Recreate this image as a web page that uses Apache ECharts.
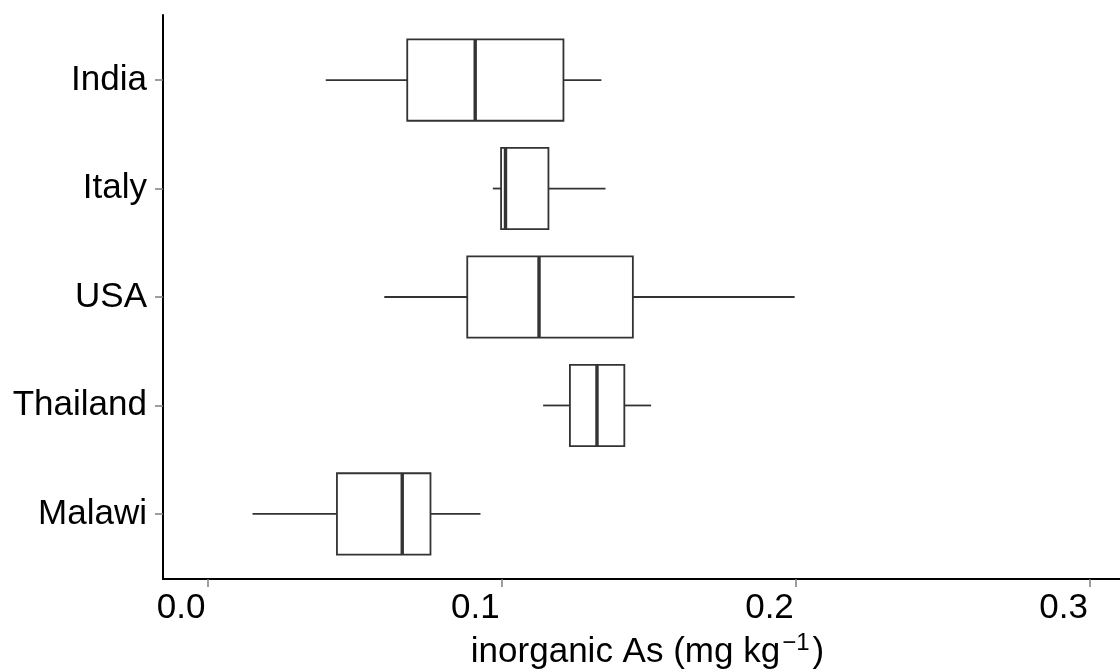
<!DOCTYPE html>
<html>
<head>
<meta charset="utf-8">
<script src="https://cdn.jsdelivr.net/npm/echarts@6/dist/echarts.min.js"></script>
<style>
  html, body { margin: 0; padding: 0; background: #ffffff; }
  #chart { width: 1120px; height: 670px; }
</style>
</head>
<body>
<div id="chart"></div>
<script>
// ---- data ----
const categories = ['India', 'Italy', 'USA', 'Thailand', 'Malawi'];
const whiskerLow = [0.0402, 0.0970, 0.0601, 0.1141, 0.0153];
const quartile1  = [0.0679, 0.0998, 0.0883, 0.1232, 0.0440];
const medians    = [0.0910, 0.1013, 0.1127, 0.1324, 0.0662];
const quartile3  = [0.1210, 0.1159, 0.1446, 0.1417, 0.0758];
const whiskerHigh= [0.1339, 0.1353, 0.1996, 0.1508, 0.0928];
const xTicks = [0, 0.1, 0.2, 0.3];
const xTickLabels = ['0.0', '0.1', '0.2', '0.3'];

const rows = categories.map((c, i) => [i + 1, whiskerLow[i], quartile1[i], medians[i], quartile3[i], whiskerHigh[i]]);
const yTicks = categories.map((c, i) => i + 1);

const STROKE = '#333333';
const FONT = 'Liberation Sans, Arial, sans-serif';

const chart = echarts.init(document.getElementById('chart'), null, { renderer: 'canvas' });
chart.setOption({
  backgroundColor: '#ffffff',
  animation: false,
  grid: { left: 163, right: 0, top: 15, bottom: 91, containLabel: false, outerBoundsMode: 'none' },
  xAxis: {
    type: 'value',
    min: -0.01513,
    max: 0.3102,
    name: 'inorganic As (mg kg{sup|\u22121})',
    nameLocation: 'middle',
    nameGap: 50,
    nameTextStyle: {
      fontFamily: FONT, fontSize: 35, color: '#000000', lineHeight: 42, padding: [0, 0, 0, 12],
      rich: { sup: { fontFamily: FONT, fontSize: 24, color: '#000000', verticalAlign: 'top', lineHeight: 42, padding: [0, 3, 0, 2] } }
    },
    axisLine: { show: true, onZero: false, lineStyle: { color: '#000000', width: 2 } },
    axisTick: { show: true, length: 8, customValues: xTicks, lineStyle: { color: '#7f7f7f', width: 1.5 } },
    axisLabel: {
      show: true, customValues: xTicks, margin: 12, align: 'right', padding: [0, 2, 0, 0],
      fontFamily: FONT, fontSize: 35, color: '#000000',
      formatter: v => { const k = xTicks.findIndex(t => Math.abs(t - v) < 1e-9); return k >= 0 ? xTickLabels[k] : ''; }
    },
    splitLine: { show: false }
  },
  yAxis: {
    type: 'value',
    inverse: true,
    min: 0.4,
    max: 5.6,
    axisLine: { show: true, onZero: false, lineStyle: { color: '#000000', width: 2 } },
    axisTick: { show: true, length: 8, customValues: yTicks, lineStyle: { color: '#7f7f7f', width: 1.5 } },
    axisLabel: {
      show: true, customValues: yTicks, margin: 16, padding: [6, 0, 0, 0],
      fontFamily: FONT, fontSize: 35, color: '#000000',
      formatter: v => categories[Math.round(v) - 1] || ''
    },
    splitLine: { show: false }
  },
  series: [{
    type: 'custom',
    data: rows,
    encode: { x: [1, 2, 3, 4, 5], y: 0 },
    renderItem: function (params, api) {
      const y = api.value(0);
      const lo = api.coord([api.value(1), y]);
      const q1 = api.coord([api.value(2), y]);
      const md = api.coord([api.value(3), y]);
      const q3 = api.coord([api.value(4), y]);
      const hi = api.coord([api.value(5), y]);
      const h = api.size([0, 0.75])[1];
      const cy = lo[1];
      return {
        type: 'group',
        children: [
          { type: 'line', shape: { x1: lo[0], y1: cy, x2: q1[0], y2: cy }, style: { stroke: STROKE, lineWidth: 1.8 } },
          { type: 'line', shape: { x1: q3[0], y1: cy, x2: hi[0], y2: cy }, style: { stroke: STROKE, lineWidth: 1.8 } },
          { type: 'rect', shape: { x: q1[0], y: cy - h / 2, width: q3[0] - q1[0], height: h }, style: { fill: '#ffffff', stroke: STROKE, lineWidth: 1.8 } },
          { type: 'line', shape: { x1: md[0], y1: cy - h / 2, x2: md[0], y2: cy + h / 2 }, style: { stroke: STROKE, lineWidth: 3.4 } }
        ]
      };
    }
  }]
});
</script>
</body>
</html>
